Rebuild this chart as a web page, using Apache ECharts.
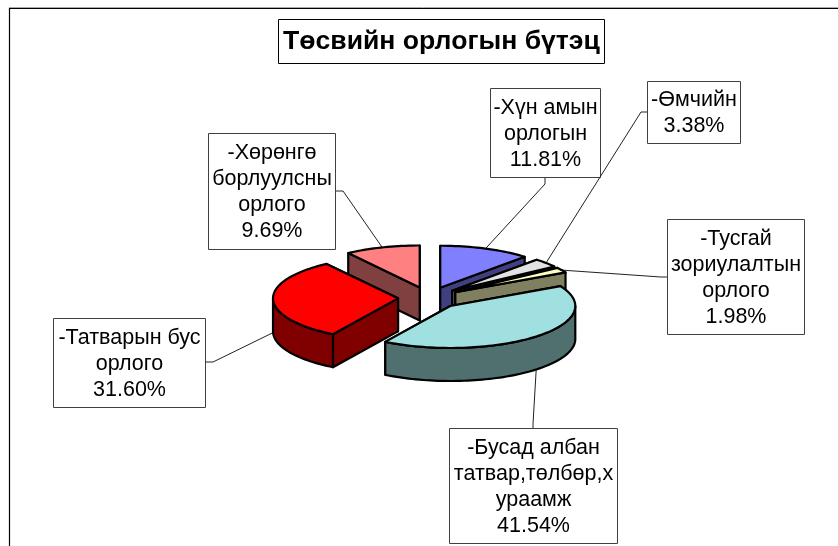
<!DOCTYPE html>
<html>
<head>
<meta charset="utf-8">
<style>html,body{margin:0;padding:0;background:#fff}#c{width:838px;height:546px}</style>
<script src="https://cdn.jsdelivr.net/npm/echarts@6/dist/echarts.min.js"></script>
</head>
<body>
<div id="c"></div>
<script>
const titleText = 'Төсвийн орлогын бүтэц';
const categories = ['-Хүн амын\nорлогын', '-Өмчийн', '-Тусгай\nзориулалтын\nорлого', '-Бусад албан\nтатвар,төлбөр,х\nураамж', '-Татварын бус\nорлого', '-Хөрөнгө\nборлуулсны\nорлого'];
const values = [11.81, 3.38, 1.98, 41.54, 31.60, 9.69];
const topColors = ['#8080FF', '#E3E3E3', '#FFFFC0', '#A0E0E0', '#FF0000', '#FF8080'];
const wallColors = ['#404080', '#717171', '#808060', '#507070', '#800000', '#804040'];
const drawOrder = [5, 0, 1, 2, 4, 3];

const CX = 429, CY = 298, RX = 125, RY = 42, DEPTH = 33, EX = 31, EY = 11;
// label boxes: [x, y, w, h], and the leader's elbow
const boxes = [
  [490, 88, 110, 89], [647, 81, 93, 62], [667, 219, 137, 115],
  [449, 428, 168, 115], [53, 318, 152, 89], [208, 133, 127, 116]
];
const elbows = [[[545, 177], [545, 184]], [[647, 112], [641, 112]], [[667, 277], [661, 277]],
  [[533, 428], [533, 424]], [[205, 362], [213, 362]], [[335, 191], [343, 191]]];

const total = values.reduce((a, b) => a + b, 0);
const slices = [];
let acc = 0;
values.forEach(v => {
  const a0 = acc / total * Math.PI * 2;
  acc += v;
  const a1 = acc / total * Math.PI * 2;
  const mid = (a0 + a1) / 2;
  slices.push({ a0, a1, mid, ax: CX + EX * Math.sin(mid), ay: CY - EY * Math.cos(mid) });
});
const pt = (s, a, dy) => [s.ax + RX * Math.sin(a), s.ay - RY * Math.cos(a) + (dy || 0)];
const arc = (s, a0, a1, dy) => {
  const n = Math.max(2, Math.ceil(Math.abs(a1 - a0) / 0.03));
  const out = [];
  for (let i = 0; i <= n; i++) out.push(pt(s, a0 + (a1 - a0) * i / n, dy));
  return out;
};
const LW = 2.2;
function poly(points, fill) {
  return { type: 'polygon', shape: { points }, style: { fill, stroke: '#000', lineWidth: LW, lineJoin: 'round' } };
}
function sliceItem(params) {
  const i = drawOrder[params.dataIndex];
  const s = slices[i], wall = wallColors[i];
  const A = [s.ax, s.ay], B = [s.ax, s.ay + DEPTH];
  const P0 = pt(s, s.a0), P1 = pt(s, s.a1);
  const w0 = poly([A, P0, [P0[0], P0[1] + DEPTH], B], wall);
  const w1 = poly([A, P1, [P1[0], P1[1] + DEPTH], B], wall);
  // the cut face nearer the back is painted first
  const kids = P0[1] < P1[1] ? [w0, w1] : [w1, w0];
  // the outer wall is only visible on the lower half of the ellipse
  const lo = Math.max(s.a0, Math.PI / 2), hi = Math.min(s.a1, Math.PI * 1.5);
  if (hi > lo) {
    kids.push(poly(arc(s, lo, hi, 0).concat(arc(s, hi, lo, DEPTH)), wall));
  }
  kids.push(poly([A].concat(arc(s, s.a0, s.a1)), topColors[i]));
  return { type: 'group', children: kids };
}
function anchor(i) {
  const s = slices[i];
  const m = s.mid;
  const onFront = m > Math.PI / 2 && m < Math.PI * 1.5;
  const isLeft = i === 4;
  return pt(s, m, onFront || isLeft ? DEPTH : 0);
}
function labelItem(params) {
  const i = params.dataIndex;
  const b = boxes[i], e = elbows[i];
  const lines = categories[i] + '\n' + values[i].toFixed(2) + '%';
  return {
    type: 'group',
    children: [
      { type: 'polyline', shape: { points: [e[0], e[1], anchor(i)] }, style: { stroke: '#222', lineWidth: 1, fill: null } },
      { type: 'rect', shape: { x: b[0] + 0.5, y: b[1] + 0.5, width: b[2], height: b[3] }, style: { fill: '#fff', stroke: '#404040', lineWidth: 1 } },
      { type: 'text', style: { x: b[0] + b[2] / 2 + 0.5, y: b[1] + b[3] / 2 + 1.5, text: lines, align: 'center', verticalAlign: 'middle',
        fontFamily: '"Liberation Sans", Arial, sans-serif', fontSize: 21.5, lineHeight: 26, fill: '#000' } }
    ]
  };
}
const chart = echarts.init(document.getElementById('c'), null, { renderer: 'canvas' });
chart.setOption({
  backgroundColor: '#fff',
  animation: false,
  title: {
    text: titleText, left: 278, top: 19, padding: [7, 5, 6, 5], borderColor: '#000', borderWidth: 1, backgroundColor: '#fff',
    textStyle: { fontFamily: '"Liberation Sans", Arial, sans-serif', fontSize: 26.6, fontWeight: 'bold', color: '#000', lineHeight: 32 }
  },
  graphic: [
    { type: 'polyline', silent: true, z: -1, shape: { points: [[838, 7.5], [9, 7.5]] }, style: { stroke: '#aaa', lineWidth: 1, fill: null } },
    { type: 'polyline', silent: true, z: -1, shape: { points: [[9.5, 546], [9.5, 8.5], [838, 8.5]] }, style: { stroke: '#000', lineWidth: 1.2, fill: null } }
  ],
  series: [
    { type: 'custom', coordinateSystem: 'none', silent: true, z: 2, data: drawOrder.map(i => values[i]), renderItem: sliceItem },
    { type: 'custom', coordinateSystem: 'none', silent: true, z: 1, data: values, renderItem: labelItem }
  ]
});
</script>
</body>
</html>
